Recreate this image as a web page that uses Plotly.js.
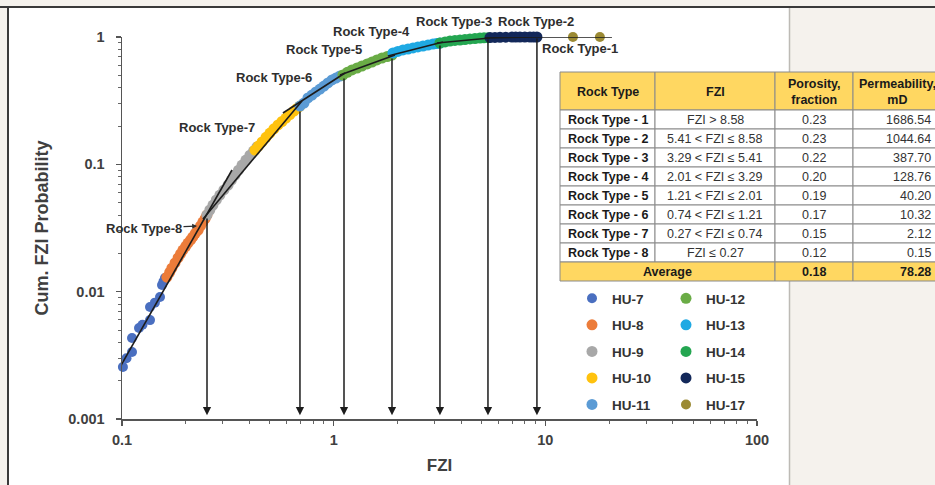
<!DOCTYPE html>
<html><head><meta charset="utf-8">
<script src="https://cdn.plot.ly/plotly-3.0.1.min.js"></script>
<style>html,body{margin:0;padding:0;background:#f5f2ed;} #chart{width:935px;height:485px;}</style>
</head><body><div id="chart"></div>
<script>
// ---------------- data ----------------
const huNames = ['HU-7','HU-8','HU-9','HU-10','HU-11','HU-12','HU-13','HU-14','HU-15','HU-17'];

const hu7_fzi  = [0.101,0.105,0.1115,0.1115,0.1203,0.125,0.1356,0.1356,0.143,0.1512,0.1545,0.157,0.1596];
const hu7_prob = [0.00256,0.0030,0.00336,0.00433,0.00518,0.0055,0.00598,0.00757,0.0082,0.00908,0.01127,0.0120,0.01279];

const hu8_fzi  = [0.163,0.168,0.172,0.178,0.184,0.189,0.194,0.200,0.205,0.211,0.216,0.222,0.229,0.235,0.241,0.247,0.252];
const hu8_prob = [0.0130,0.0142,0.0153,0.0168,0.0184,0.0198,0.0212,0.0227,0.0241,0.0255,0.0269,0.0287,0.0305,0.0328,0.0352,0.0375,0.0400];

const hu9_fzi  = [0.252,0.260,0.269,0.279,0.290,0.303,0.317,0.329,0.342,0.355,0.369,0.385,0.402,0.418,0.434];
const hu9_prob = [0.040,0.0438,0.0479,0.0525,0.0574,0.0629,0.0688,0.0753,0.0824,0.0900,0.0987,0.108,0.118,0.127,0.137];

const hu10_fzi  = [0.425,0.441,0.459,0.479,0.500,0.522,0.546,0.570,0.595,0.621,0.649,0.671,0.693];
const hu10_prob = [0.1295,0.139,0.150,0.163,0.176,0.190,0.204,0.217,0.231,0.246,0.262,0.275,0.287];

const hu11_fzi  = [0.693,0.724,0.756,0.790,0.825,0.862,0.900,0.940,0.982,1.025,1.071];
const hu11_prob = [0.287,0.303,0.332,0.350,0.370,0.390,0.412,0.436,0.460,0.476,0.494];

const hu12_fzi  = [1.106,1.160,1.220,1.290,1.360,1.440,1.517,1.600,1.691,1.790,1.886];
const hu12_prob = [0.503,0.528,0.551,0.571,0.592,0.614,0.636,0.660,0.684,0.703,0.722];

const hu13_fzi  = [1.906,2.010,2.125,2.245,2.370,2.500,2.642,2.790,2.945,3.060,3.178];
const hu13_prob = [0.749,0.770,0.791,0.805,0.820,0.835,0.850,0.865,0.881,0.889,0.897];

const hu14_fzi  = [3.178,3.360,3.544,3.740,3.951,4.170,4.404,4.650,4.911,5.130,5.358];
const hu14_prob = [0.897,0.914,0.930,0.939,0.947,0.956,0.965,0.973,0.982,0.985,0.988];

const hu15_fzi  = [5.476,5.78,6.106,6.50,6.953,7.25,7.586,8.00,8.458,8.80,9.126];
const hu15_prob = [0.990,0.992,0.994,0.996,0.998,1.0,1.0,1.0,1.0,1.0,1.0];

const hu17_fzi  = [13.5,18.1];
const hu17_prob = [1.0,1.0];

// rock type fit lines (FZI / probability end points)
const rtLabels = ['Rock Type-1','Rock Type-2','Rock Type-3','Rock Type-4','Rock Type-5','Rock Type-6','Rock Type-7','Rock Type-8'];
const rtFitFZI  = [[9.126,20.64],[5.186,9.126],[3.076,5.476],[1.805,3.284],[1.071,1.948],[0.576,1.131],[0.2414,0.7084],[0.0813,0.3309]];
const rtFitProb = [[1.0,1.0],[0.982,1.0],[0.8972,0.982],[0.7092,0.9136],[0.503,0.7222],[0.2531,0.5214],[0.03718,0.3143],[0.001486,0.09024]];

// cut-off arrows
const cutFZI  = [9.126,5.358,3.178,1.886,1.119,0.693,0.2521];
const cutProb = [1.0,0.982,0.8811,0.6965,0.485,0.267,0.0386];
const arrowTipProb = 0.00107;

// axis ticks
const xTickVals = [0.1,1,10,100];
const xTickText = ['0.1','1','10','100'];
const yTickVals = [0.001,0.01,0.1,1];
const yTickText = ['0.001','0.01','0.1','1'];

// table
const tableHeader   = ['Rock Type','FZI','Porosity,<br>fraction','Permeability,<br>mD'];
const tableRockType = ['Rock Type - 1','Rock Type - 2','Rock Type - 3','Rock Type - 4','Rock Type - 5','Rock Type - 6','Rock Type - 7','Rock Type - 8'];
const tableFZI      = ['FZI > 8.58','5.41 < FZI ≤ 8.58','3.29 < FZI ≤ 5.41','2.01 < FZI ≤ 3.29','1.21 < FZI ≤ 2.01','0.74 < FZI ≤ 1.21','0.27 < FZI ≤ 0.74','FZI ≤ 0.27'];
const tablePorosity = ['0.23','0.23','0.22','0.20','0.19','0.17','0.15','0.12'];
const tablePerm     = ['1686.54','1044.64','387.70','128.76','40.20','10.32','2.12','0.15'];
const tableAverage  = ['Average','0.18','78.28'];

// ---------------- styles / layout ----------------
const W = 935, H = 485;
const px = x => x / W;
const py = y => 1 - y / H;
const FONT = 'Liberation Sans, Arial, sans-serif';
const huColors = ['#4a6fc0','#ec7c3a','#a8a8a8','#ffc20e','#5b9bd5','#6aac46','#1fa9e3','#24a651','#13285a','#9b8a33'];
const huSizes  = [10,11,11,11,11,11,11,11,11,10];
const huData = [
  [hu7_fzi,hu7_prob],[hu8_fzi,hu8_prob],[hu9_fzi,hu9_prob],[hu10_fzi,hu10_prob],[hu11_fzi,hu11_prob],
  [hu12_fzi,hu12_prob],[hu13_fzi,hu13_prob],[hu14_fzi,hu14_prob],[hu15_fzi,hu15_prob],[hu17_fzi,hu17_prob]
];

const traces = [];
huData.forEach((d, i) => {
  traces.push({
    type:'scatter', mode:'markers', x:d[0], y:d[1], name:huNames[i],
    marker:{size:huSizes[i], color:huColors[i], line:{width:0}},
    cliponaxis:false, legendgroup:huNames[i],
    legend: i < 5 ? 'legend' : 'legend2',
    hoverinfo:'x+y+name'
  });
});
rtFitFZI.forEach((xs, i) => {
  traces.push({
    type:'scatter', mode:'lines', x:xs, y:rtFitProb[i], name:rtLabels[i],
    line:{color:'#1c1c1c', width:1.6}, showlegend:false, cliponaxis:false, hoverinfo:'name'
  });
});

const shapes = [];
const annotations = [];

// frame / panels
shapes.push({type:'rect', xref:'paper', yref:'paper', x0:px(9), x1:px(789), y0:py(485), y1:py(8), fillcolor:'#ffffff', line:{width:0}, layer:'below'});
shapes.push({type:'line', xref:'paper', yref:'paper', x0:px(789.5), x1:px(789.5), y0:py(485), y1:py(8), line:{color:'#bdbab5', width:1.5}, layer:'below'});
shapes.push({type:'line', xref:'paper', yref:'paper', x0:px(0), x1:px(935), y0:py(7), y1:py(7), line:{color:'#3a3a3a', width:2}, layer:'below'});
shapes.push({type:'line', xref:'paper', yref:'paper', x0:px(8), x1:px(8), y0:py(485), y1:py(7), line:{color:'#3a3a3a', width:2}, layer:'below'});

// table geometry
const colEdges = [560, 655, 775, 853, 941];
const headerTop = 72, headerBot = 110, rowH = 19;
const gold = '#ffd761', lineCol = '#8a8a8a';
function cell(x0, x1, y0, y1, fill){
  shapes.push({type:'rect', xref:'paper', yref:'paper', x0:px(x0), x1:px(x1), y0:py(y1), y1:py(y0), fillcolor:fill, line:{color:lineCol, width:1}});
}
function txt(text, cx, cy, opts){
  annotations.push(Object.assign({xref:'paper', yref:'paper', x:px(cx), y:py(cy), text:text, showarrow:false,
    xanchor:'center', yanchor:'middle', font:{family:FONT, size:11, color:'#222'}}, opts||{}));
}
const hf = {family:FONT, size:12.5, weight:'bold', color:'#1a1a1a'};
const df = {family:FONT, size:12.5, color:'#333'};
for (let c = 0; c < 4; c++) {
  cell(colEdges[c], colEdges[c+1], headerTop, headerBot, gold);
  const cx = (colEdges[c] + colEdges[c+1]) / 2;
  txt(tableHeader[c], cx, (headerTop+headerBot)/2 + 1, {font:hf});
}
for (let r = 0; r < tableRockType.length; r++) {
  const y0 = headerBot + r*rowH, y1 = y0 + rowH, cy = (y0+y1)/2 + 0.5;
  for (let c = 0; c < 4; c++) cell(colEdges[c], colEdges[c+1], y0, y1, '#ffffff');
  txt(tableRockType[r], (colEdges[0]+colEdges[1])/2, cy, {font:hf});
  txt(tableFZI[r], (colEdges[1]+colEdges[2])/2, cy, {font:df});
  txt(tablePorosity[r], (colEdges[2]+colEdges[3])/2, cy, {font:df});
  txt(tablePerm[r], 933, cy, {xanchor:'right', font:df});
}
{
  const y0 = headerBot + tableRockType.length*rowH, y1 = y0 + rowH, cy = (y0+y1)/2 + 0.5;
  cell(colEdges[0], colEdges[2], y0, y1, gold);
  cell(colEdges[2], colEdges[3], y0, y1, gold);
  cell(colEdges[3], colEdges[4], y0, y1, gold);
  txt(tableAverage[0], (colEdges[0]+colEdges[2])/2, cy, {font:hf});
  txt(tableAverage[1], (colEdges[2]+colEdges[3])/2, cy, {font:hf});
  txt(tableAverage[2], 933, cy, {xanchor:'right', font:hf});
}

// rock type labels
const rtLabelPos = [[580,49],[536,22],[454,22],[371,32],[324,50],[274,77],[217,128]];
const labFont = {family:FONT, size:13, weight:'bold', color:'#2e2e2e'};
rtLabelPos.forEach((p, i) => txt(rtLabels[i], p[0], p[1], {font:labFont}));
// Rock Type-8 with a small pointer
annotations.push({xref:'x', yref:'y', x:Math.log10(0.2261), y:Math.log10(0.03276), text:rtLabels[7],
  showarrow:true, ax:-53, ay:2, arrowhead:2, arrowsize:0.8, arrowwidth:1.2, arrowcolor:'#2e2e2e', font:labFont});

// cut-off arrows
cutFZI.forEach((f, i) => {
  annotations.push({xref:'x', yref:'y', axref:'x', ayref:'y', x:Math.log10(f), y:Math.log10(arrowTipProb),
    ax:Math.log10(f), ay:Math.log10(cutProb[i]), text:'', showarrow:true, arrowhead:2, arrowsize:1.1,
    arrowwidth:1.5, arrowcolor:'#1c1c1c', standoff:0, startstandoff:0});
});

// minor ticks (2..9 in each decade)
const minorX = [], minorY = [];
for (let e = -1; e < 2; e++) for (let m = 2; m < 10; m++) minorX.push(m*Math.pow(10,e));
for (let e = -3; e < 0; e++) for (let m = 2; m < 10; m++) minorY.push(m*Math.pow(10,e));

const tickFont = {family:FONT, size:14.5, weight:'bold', color:'#404040'};
const legFont = {family:FONT, size:13.5, weight:'bold', color:'#333'};

const layout = {
  width:W, height:H,
  margin:{l:0, r:0, t:0, b:0},
  paper_bgcolor:'#f5f2ed', plot_bgcolor:'rgba(0,0,0,0)',
  showlegend:true,
  xaxis:{type:'log', range:[-1,2], domain:[px(122), px(757)],
    tickmode:'array', tickvals:xTickVals, ticktext:xTickText, ticks:'outside', ticklen:5, tickwidth:1.3, tickcolor:'#555',
    minor:{tickmode:'array', tickvals:minorX, ticks:'outside', ticklen:3, tickwidth:1, tickcolor:'#666', showgrid:false},
    showgrid:false, zeroline:false, showline:true, linecolor:'#555', linewidth:1.5,
    tickfont:tickFont, ticklabelstandoff:2,
    title:{text:'FZI', font:{family:FONT, size:17, weight:'bold', color:'#404040'}, standoff:12}},
  yaxis:{type:'log', range:[-3,0], domain:[py(419), py(37)],
    tickmode:'array', tickvals:yTickVals, ticktext:yTickText, ticks:'outside', ticklen:5, tickwidth:1.3, tickcolor:'#555',
    minor:{tickmode:'array', tickvals:minorY, ticks:'outside', ticklen:3, tickwidth:1, tickcolor:'#666', showgrid:false},
    showgrid:false, zeroline:false, showline:true, linecolor:'#555', linewidth:1.5,
    tickfont:tickFont, ticklabelstandoff:8,
    title:{text:'Cum. FZI Probability', font:{family:FONT, size:18, weight:'bold', color:'#404040'}, standoff:15}},
  legend:{x:px(572), y:py(283), xanchor:'left', yanchor:'top', bgcolor:'rgba(0,0,0,0)', font:legFont, tracegroupgap:6, itemwidth:30},
  legend2:{x:px(666), y:py(283), xanchor:'left', yanchor:'top', bgcolor:'rgba(0,0,0,0)', font:legFont, tracegroupgap:6, itemwidth:30},
  shapes:shapes,
  annotations:annotations
};

Plotly.newPlot('chart', traces, layout, {displayModeBar:false, staticPlot:true});
</script></body></html>
